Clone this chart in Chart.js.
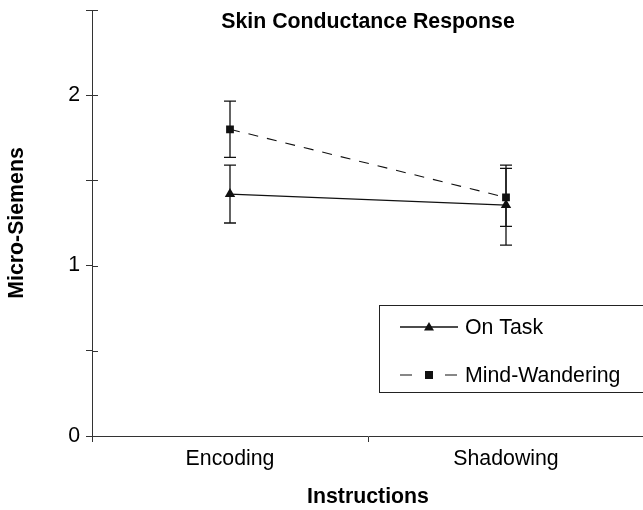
<!DOCTYPE html>
<html>
<head>
<meta charset="utf-8">
<script src="https://cdn.jsdelivr.net/npm/chart.js@4.4.1/dist/chart.umd.min.js"></script>
<style>
  html, body { margin: 0; padding: 0; background: #fff; overflow: hidden; }
  #wrap { width: 650px; height: 510px; }
</style>
</head>
<body>
<div id="wrap"><canvas id="scr" width="650" height="510"></canvas></div>
<script>
// data
const categories = ['Encoding', 'Shadowing'];
const onTask = [1.42, 1.355];
const onTaskErr = [0.17, 0.235];
const mindWandering = [1.80, 1.40];
const mindWanderingErr = [0.165, 0.17];
const yLabelled = [0, 1, 2];
const chartTitle = 'Skin Conductance Response';

const FONT = "'Liberation Sans', Arial, sans-serif";
const AXIS = '#333';
const FS = 21.3;
Chart.defaults.font.family = FONT;
Chart.defaults.color = '#000';

// vertical error bars from dataset.err
const errorBars = {
    id: 'errorBars',
    afterDatasetsDraw(chart) {
        const ctx = chart.ctx;
        const y = chart.scales.y;
        chart.data.datasets.forEach((ds, i) => {
            const meta = chart.getDatasetMeta(i);
            ctx.save();
            ctx.strokeStyle = '#111';
            ctx.lineWidth = 1.3;
            meta.data.forEach((pt, j) => {
                const hi = y.getPixelForValue(ds.data[j] + ds.err[j]);
                const lo = y.getPixelForValue(ds.data[j] - ds.err[j]);
                ctx.beginPath();
                ctx.moveTo(pt.x, hi); ctx.lineTo(pt.x, lo);
                ctx.moveTo(pt.x - 6, hi); ctx.lineTo(pt.x + 6, hi);
                ctx.moveTo(pt.x - 6, lo); ctx.lineTo(pt.x + 6, lo);
                ctx.stroke();
            });
            ctx.restore();
        });
    }
};

// y ticks that cross the axis, title, and boxed legend inside the plot
const decorations = {
    id: 'decorations',
    afterDraw(chart) {
        const ctx = chart.ctx;
        const y = chart.scales.y;
        const area = chart.chartArea;
        ctx.save();
        ctx.strokeStyle = AXIS;
        ctx.lineWidth = 1;
        y.ticks.forEach(t => {
            const py = Math.round(y.getPixelForValue(t.value)) + 0.5;
            ctx.beginPath();
            ctx.moveTo(area.left, py); ctx.lineTo(area.left + 6, py);
            ctx.stroke();
        });

        ctx.fillStyle = '#000';
        ctx.font = 'bold ' + FS + 'px ' + FONT;
        ctx.textAlign = 'center';
        ctx.textBaseline = 'alphabetic';
        ctx.fillText(chartTitle, (area.left + area.right) / 2, 28);

        // legend
        ctx.strokeStyle = '#222';
        ctx.strokeRect(379.5, 305.5, 300, 87);
        const rows = [327, 375];
        chart.data.datasets.forEach((ds, i) => {
            const ry = rows[i];
            ctx.strokeStyle = ds.borderColor;
            ctx.lineWidth = ds.borderWidth;
            ctx.beginPath();
            if (ds.borderDash) {
                ctx.moveTo(400, ry); ctx.lineTo(412, ry);
                ctx.moveTo(445, ry); ctx.lineTo(457, ry);
            } else {
                ctx.moveTo(400, ry); ctx.lineTo(458, ry);
            }
            ctx.stroke();
            ctx.fillStyle = ds.pointBackgroundColor;
            const mx = 429;
            ctx.beginPath();
            if (ds.pointStyle === 'triangle') {
                ctx.moveTo(mx, ry - 5); ctx.lineTo(mx + 5, ry + 3.5); ctx.lineTo(mx - 5, ry + 3.5);
            } else {
                ctx.rect(mx - 4, ry - 4, 8, 8);
            }
            ctx.closePath();
            ctx.fill();
            ctx.fillStyle = '#000';
            ctx.font = FS + 'px ' + FONT;
            ctx.textAlign = 'left';
            ctx.textBaseline = 'middle';
            ctx.fillText(ds.label, 465, ry + 1);
        });
        ctx.restore();
    }
};

new Chart(document.getElementById('scr'), {
    type: 'line',
    data: {
        labels: categories,
        datasets: [{
            label: 'On Task',
            data: onTask,
            err: onTaskErr,
            borderColor: '#111',
            borderWidth: 1.3,
            pointStyle: 'triangle',
            pointRadius: 6,
            pointBackgroundColor: '#111',
            pointBorderColor: '#111',
            pointBorderWidth: 0,
            tension: 0
        }, {
            label: 'Mind-Wandering',
            data: mindWandering,
            err: mindWanderingErr,
            borderColor: '#111',
            borderWidth: 1.1,
            borderDash: [10, 9],
            pointStyle: 'rect',
            pointRadius: 5.5,
            pointBackgroundColor: '#111',
            pointBorderColor: '#111',
            pointBorderWidth: 0,
            tension: 0
        }]
    },
    options: {
        responsive: false,
        animation: false,
        events: [],
        layout: { padding: { top: 0, right: 2, bottom: 0, left: 0 } },
        plugins: {
            legend: { display: false },
            tooltip: { enabled: false }
        },
        scales: {
            x: {
                type: 'category',
                offset: true,
                grid: { offset: true, drawOnChartArea: false, drawTicks: true, tickLength: 6, color: AXIS },
                border: { color: AXIS, width: 1 },
                ticks: { font: { size: FS }, padding: 4, color: '#000' },
                title: { display: true, text: 'Instructions', font: { size: FS, weight: 'bold' }, padding: { top: 0, bottom: 0 } },
                afterFit: s => { s.height = 74; }
            },
            y: {
                min: 0,
                max: 2.5,
                grid: { drawOnChartArea: false, drawTicks: true, tickLength: 6, color: AXIS },
                border: { color: AXIS, width: 1 },
                ticks: {
                    stepSize: 0.5,
                    padding: 6,
                    font: { size: FS },
                    color: '#000',
                    callback: v => yLabelled.includes(v) ? String(v) : ''
                },
                title: { display: true, text: 'Micro-Siemens', font: { size: FS, weight: 'bold' }, padding: { top: 4, bottom: 0 } },
                afterFit: s => { s.width = 92; s.paddingTop = 10; }
            }
        }
    },
    plugins: [errorBars, decorations]
});
</script>
</body>
</html>
